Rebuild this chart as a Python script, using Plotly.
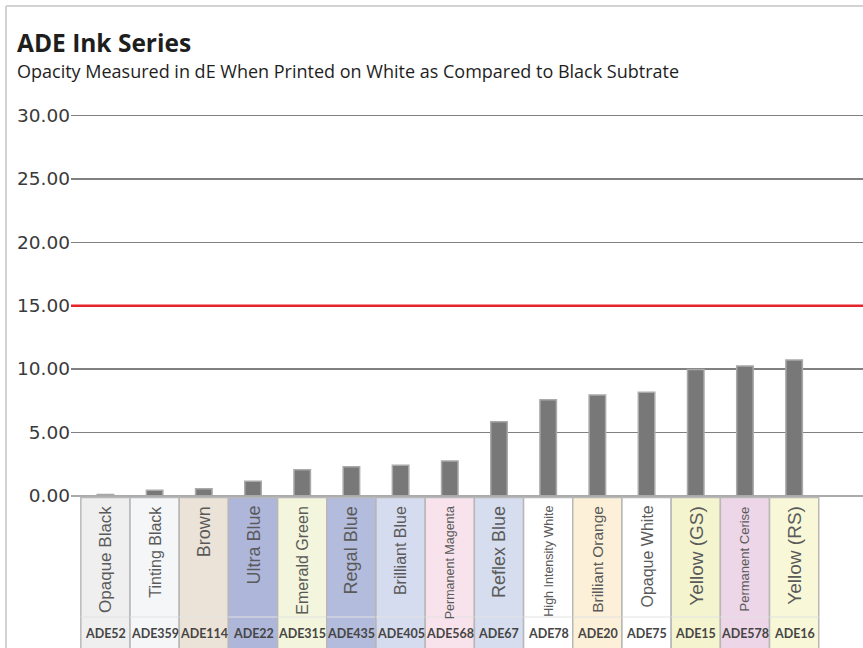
import plotly.graph_objects as go

# ---------------- data ----------------
names = ["Opaque Black", "Tinting Black", "Brown", "Ultra Blue", "Emerald Green",
         "Regal Blue", "Brilliant Blue", "Permanent Magenta", "Reflex Blue",
         "High Intensity White", "Brilliant Orange", "Opaque White", "Yellow (GS)",
         "Permanent Cerise", "Yellow (RS)"]
codes = ["ADE52", "ADE359", "ADE114", "ADE22", "ADE315", "ADE435", "ADE405",
         "ADE568", "ADE67", "ADE78", "ADE20", "ADE75", "ADE15", "ADE578", "ADE16"]
opacity_de = [0.10, 0.43, 0.55, 1.14, 2.05, 2.29, 2.40, 2.74, 5.84, 7.58, 7.95,
              8.16, 9.97, 10.24, 10.71]
threshold = 15.0
y_ticks = [0, 5, 10, 15, 20, 25, 30]

# ---------------- styling ----------------
swatch_colors = ["#efefef", "#f5f6f8", "#ebe3d7", "#aeb6da", "#f3f6dc",
                 "#b3bcdc", "#d6dcef", "#f8e3ec", "#d6ddef", "#ffffff",
                 "#fdf0d8", "#ffffff", "#f4f5cf", "#ecd6e8", "#f8f8d8"]
name_sizes = [17, 16, 18, 18, 16, 18, 16, 12.5, 18, 12.5, 15.5, 16, 19, 13, 19]

W, H = 863, 648
ML, MR, MT, MB = 71, 0, 113, 152
PW, PH = W - ML - MR, H - MT - MB


def px_x(p):
    return (p - ML) / PW


def px_y(p):
    return (H - MB - p) / PH


fig = go.Figure()
fig.add_trace(go.Bar(
    x=list(range(len(names))), y=opacity_de,
    width=0.335,
    marker=dict(color="#787878", line=dict(color="#a9a9a9", width=1.5)),
    hoverinfo="skip",
))

shapes = []
annotations = []

# outer frame (top and left edges)
shapes.append(dict(type="line", xref="paper", yref="paper",
                   x0=px_x(6), x1=px_x(W + 5), y0=px_y(6), y1=px_y(6),
                   line=dict(color="#c4c4c4", width=1.5), layer="above"))
shapes.append(dict(type="line", xref="paper", yref="paper",
                   x0=px_x(6), x1=px_x(6), y0=px_y(6), y1=px_y(H + 5),
                   line=dict(color="#c4c4c4", width=1.5), layer="above"))

# threshold line
shapes.append(dict(type="line", xref="paper", yref="y", x0=0, x1=1,
                   y0=threshold, y1=threshold,
                   line=dict(color="#e5252b", width=2.5), layer="above"))

# category swatches
for i, (n, c, col, fs) in enumerate(zip(names, codes, swatch_colors, name_sizes)):
    shapes.append(dict(type="rect", xref="x", yref="paper",
                       x0=i - 0.5, x1=i + 0.5, y0=px_y(H + 5), y1=px_y(497.5),
                       fillcolor=col, line=dict(color="#b8b8b8", width=1.5),
                       layer="above"))
    shapes.append(dict(type="line", xref="x", yref="paper",
                       x0=i - 0.5, x1=i + 0.5, y0=px_y(617), y1=px_y(617),
                       line=dict(color="#e2e2e2", width=1), layer="above"))
    annotations.append(dict(x=i, y=px_y(504), xref="x", yref="paper",
                            text=n, textangle=-90, showarrow=False,
                            xanchor="center", yanchor="top",
                            font=dict(family="Liberation Sans, Arial", size=fs,
                                      color="#5a5a5a")))
    annotations.append(dict(x=i, y=px_y(633), xref="x", yref="paper",
                            text=c, showarrow=False,
                            xanchor="center", yanchor="middle",
                            font=dict(family="Lato", size=12.5, color="#454545",
                                      weight=700)))

# titles
annotations.append(dict(x=px_x(15), y=px_y(42), xref="paper", yref="paper",
                        text="<b>ADE Ink Series</b>", showarrow=False,
                        xanchor="left", yanchor="middle",
                        font=dict(family="Open Sans", size=24.5, color="#1e1e1e")))
annotations.append(dict(x=px_x(15), y=px_y(71), xref="paper", yref="paper",
                        text="Opacity Measured in dE When Printed on White as Compared to Black Subtrate",
                        showarrow=False, xanchor="left", yanchor="middle",
                        font=dict(family="Open Sans", size=18, color="#1e1e1e")))

fig.update_layout(
    width=W, height=H,
    margin=dict(l=ML, r=MR, t=MT, b=MB, pad=0),
    paper_bgcolor="white", plot_bgcolor="white",
    showlegend=False,
    xaxis=dict(range=[-0.70, 15.40], showticklabels=False, showgrid=False,
               zeroline=False, showline=False, fixedrange=True),
    yaxis=dict(range=[-0.02, 30.2], tickvals=y_ticks, tickformat=".2f",
               showgrid=True, gridcolor="#808080", gridwidth=1.5,
               zeroline=True, zerolinecolor="#ababab", zerolinewidth=2.5,
               showline=False, ticks="", ticklabelstandoff=0,
               tickfont=dict(family="DejaVu Sans", size=18.5, color="#3a3a3a"),
               fixedrange=True),
    shapes=shapes,
    annotations=annotations,
    bargap=0,
)

fig.write_html("out.html",
               config={"displayModeBar": False, "staticPlot": True},
               post_script="document.body.style.margin='0';"
                           "document.body.style.overflow='hidden';")
